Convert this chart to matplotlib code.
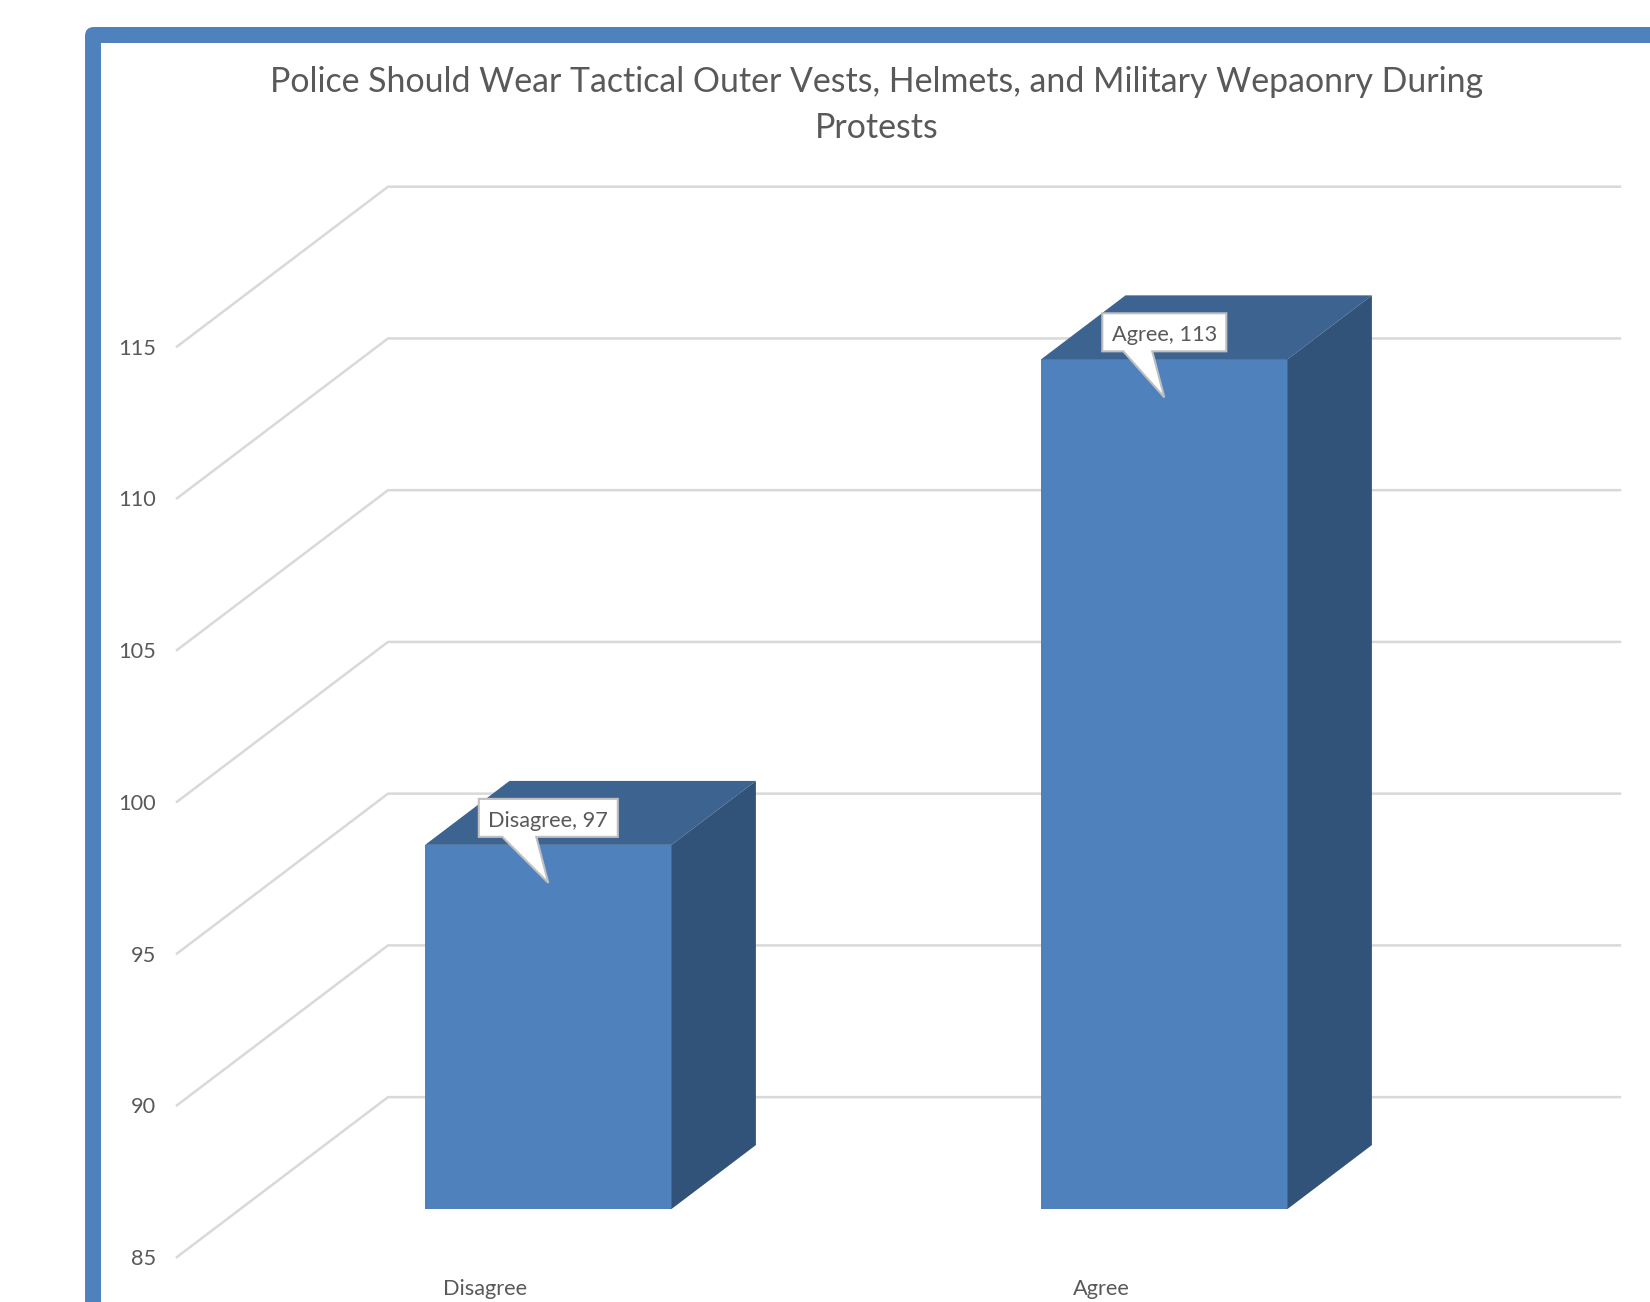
import matplotlib
matplotlib.use('Agg')
import matplotlib.pyplot as plt
from matplotlib.patches import FancyBboxPatch, Rectangle, Polygon
from matplotlib.transforms import IdentityTransform

plt.rcParams['font.family'] = ['Lato', 'DejaVu Sans']

title = 'Police Should Wear Tactical Outer Vests, Helmets, and Military Wepaonry During\nProtests'
categories = ['Disagree', 'Agree']
values = [97, 113]
yticks = [85, 90, 95, 100, 105, 110, 115]

W, H = 1650, 1302
BLUE = '#4F81BD'
TOP = '#3D6391'
SIDE = '#325379'
GRID = '#D9D9D9'
TEXT = '#595959'

# oblique depth of the chart box, in data units
DEPTH_X = 211 / 616
DEPTH_Y = 160 / 30.37
BAR_W = 0.4
BAR_D0, BAR_D1 = 0.3, 0.7

# callout box width per label, pixels
box_w = [139, 124]
box_h = 38
tail_left = [-46, -41]
tail_right = [-12, -12]


def proj(x, v, d):
    return x + d * DEPTH_X, v + d * DEPTH_Y


fig = plt.figure(figsize=(W / 100, H / 100), dpi=100, facecolor='white')

# outer frame
bg = fig.add_axes([0, 0, 1, 1], zorder=0)
bg.set_xlim(0, W)
bg.set_ylim(H, 0)
bg.axis('off')
bg.add_patch(FancyBboxPatch((85, 27), W + 100, H + 100, boxstyle='round,pad=0,rounding_size=9',
                            fc=BLUE, ec='none'))
bg.add_patch(Rectangle((101, 43), W + 100, H + 100, fc='white', ec='none'))

# axes box is the front plane + depth: 177..1620 px across, 186.7..1257 px down
left, right, top, bottom = 177, 1620, 186.7, 1257
ax = fig.add_axes([left / W, 1 - bottom / H, (right - left) / W, (bottom - top) / H], zorder=1)
ax.patch.set_visible(False)
ax.set_xlim(-0.5, 1.5 + DEPTH_X)
ax.set_ylim(85, 115 + DEPTH_Y)
for s in ax.spines.values():
    s.set_visible(False)

ax.set_yticks(yticks)
ax.set_xticks(range(len(categories)))
ax.set_xticklabels(categories)
ax.tick_params(axis='y', length=0, pad=15, labelsize=15.7, labelcolor=TEXT)
ax.tick_params(axis='x', length=0, pad=15.5, labelsize=15.7, labelcolor=TEXT)

# gridlines run along the side wall and then the back wall
for v in yticks:
    xs = [-0.5, -0.5 + DEPTH_X, 1.5 + DEPTH_X]
    ys = [v, v + DEPTH_Y, v + DEPTH_Y]
    ax.plot(xs, ys, color=GRID, lw=1.8, clip_on=False, zorder=1, solid_joinstyle='miter')

for i, val in enumerate(values):
    x0, x1 = i - BAR_W / 2, i + BAR_W / 2
    a = proj(x0, 85, BAR_D0)
    b = proj(x1, 85, BAR_D0)
    c = proj(x1, val, BAR_D0)
    d = proj(x0, val, BAR_D0)
    e = proj(x0, val, BAR_D1)
    f = proj(x1, val, BAR_D1)
    g = proj(x1, 85, BAR_D1)
    ax.add_patch(Polygon([a, b, c, d], fc=BLUE, ec='none', zorder=3, clip_on=False))
    ax.add_patch(Polygon([d, c, f, e], fc=TOP, ec='none', zorder=3, clip_on=False))
    ax.add_patch(Polygon([b, g, f, c], fc=SIDE, ec='none', zorder=3, clip_on=False))

    # data label callout, tip sits on the centre of the front face
    cx, cy = proj(i, val, BAR_D0)
    px, py = ax.transData.transform((cx, cy))
    tipy = py - 38
    by0 = tipy + 46
    by1 = by0 + box_h
    hw = box_w[i] / 2
    outline = [(px - hw, by0), (px + tail_left[i], by0), (px, tipy), (px + tail_right[i], by0),
               (px + hw, by0), (px + hw, by1), (px - hw, by1)]
    ax.add_patch(Polygon(outline, closed=True, fc='white', ec='#BFBFBF', lw=1.5,
                         transform=IdentityTransform(), zorder=4, clip_on=False))
    ax.text(px, (by0 + by1) / 2 - 3, f'{categories[i]}, {val}', color=TEXT, fontsize=15.7,
            ha='center', va='center', transform=IdentityTransform(), zorder=5)

ax.set_title(title, x=(877 - left) / (right - left), y=1.0 + 40.5 / (bottom - top),
             fontsize=24.4, color=TEXT, linespacing=1.55)

fig.savefig('out.png', dpi=100)
